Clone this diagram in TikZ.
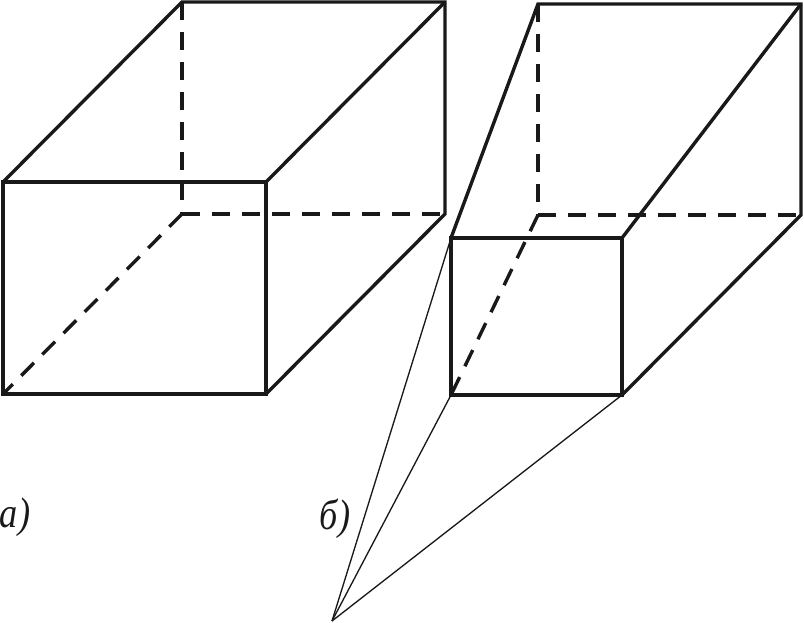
\documentclass[tikz,border=0pt]{standalone}
\usepackage{fontspec}
\setmainfont{Liberation Serif}
\newlength{\du}
\setlength{\du}{0.75pt}
\tikzset{
  solidedge/.style={line width=2.55pt,line join=miter,color=black!90},
  hiddenedge/.style={line width=2.55pt,color=black!90,dash pattern=on 13.5pt off 9pt},
  rayline/.style={line width=1pt,color=black!90},
  letter/.style={font=\itshape\fontsize{32pt}{32pt}\selectfont,inner sep=0pt,color=black!90,xscale=0.85}
}
\begin{document}
\begin{tikzpicture}[x=\du,y=-\du]
\useasboundingbox (0,0) rectangle (804,622);
% box a
\coordinate (a1) at (3,182);
\coordinate (a2) at (266,182);
\coordinate (a3) at (266,394);
\coordinate (a4) at (3,394);
\coordinate (a5) at (182,2);
\coordinate (a6) at (445,2);
\coordinate (a7) at (445,214);
\coordinate (a8) at (182,214);
\draw[hiddenedge] (a5) -- (a8);
\draw[hiddenedge] (a8) -- (a7);
\draw[hiddenedge] (a8) -- (a4);
\draw[solidedge] (a1) -- (a2) -- (a3) -- (a4) -- cycle;
\draw[solidedge] (a1) -- (a5) -- (a6) -- (a7) -- (a3);
\draw[solidedge] (a2) -- (a6);
% box b
\coordinate (b1) at (451,238);
\coordinate (b2) at (622,238);
\coordinate (b3) at (622,395);
\coordinate (b4) at (451,395);
\coordinate (b5) at (538,4);
\coordinate (b6) at (801,4);
\coordinate (b7) at (801,215);
\coordinate (b8) at (538,215);
\coordinate (apex) at (332,621);
\draw[hiddenedge] (b5) -- (b8);
\draw[hiddenedge] (b8) -- (b7);
\draw[hiddenedge] (b8) -- (b4);
\draw[solidedge] (b1) -- (b2) -- (b3) -- (b4) -- cycle;
\draw[solidedge] (b1) -- (b5) -- (b6) -- (b7) -- (b3);
\draw[solidedge] (b2) -- (b6);
% rays
\draw[rayline] (apex) -- (b1);
\draw[rayline] (apex) -- (b4);
\draw[rayline] (apex) -- (b3);
% labels
\node[letter] (lbla) at (15,517) {а)};
\node[letter] (lblb) at (335,519) {б)};
\end{tikzpicture}
\end{document}
